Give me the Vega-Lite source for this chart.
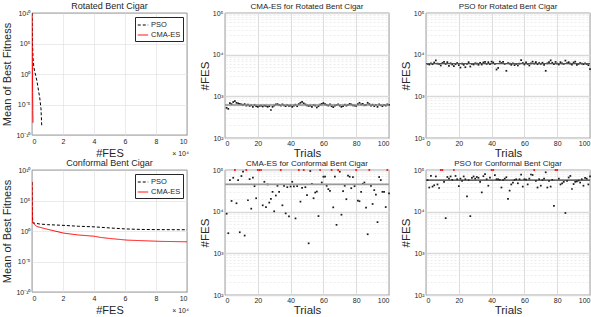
{
"$schema": "https://vega.github.io/schema/vega-lite/v6.json",
"padding": {"left": 1, "top": 1, "right": 0, "bottom": 0},
"background": "white",
"datasets": {
"conv": [
{"p":"rot","alg":"PSO","fes_1e4":0,"fit":1e10},{"p":"rot","alg":"PSO","fes_1e4":0.03,"fit":1e5},{"p":"rot","alg":"PSO","fes_1e4":0.07,"fit":300},{"p":"rot","alg":"PSO","fes_1e4":0.12,"fit":12},{"p":"rot","alg":"PSO","fes_1e4":0.2,"fit":1.5},{"p":"rot","alg":"PSO","fes_1e4":0.32,"fit":0.07},{"p":"rot","alg":"PSO","fes_1e4":0.42,"fit":0.002},{"p":"rot","alg":"PSO","fes_1e4":0.5,"fit":1.2e-4},{"p":"rot","alg":"PSO","fes_1e4":0.58,"fit":2e-6},{"p":"rot","alg":"PSO","fes_1e4":0.63,"fit":2.5e-9},
{"p":"rot","alg":"CMA-ES","fes_1e4":0,"fit":1e10},{"p":"rot","alg":"CMA-ES","fes_1e4":0.01,"fit":1e6},{"p":"rot","alg":"CMA-ES","fes_1e4":0.02,"fit":1e3},{"p":"rot","alg":"CMA-ES","fes_1e4":0.03,"fit":1},{"p":"rot","alg":"CMA-ES","fes_1e4":0.04,"fit":1e-3},{"p":"rot","alg":"CMA-ES","fes_1e4":0.05,"fit":1e-6},{"p":"rot","alg":"CMA-ES","fes_1e4":0.062,"fit":1e-8},
{"p":"conf","alg":"PSO","fes_1e4":0,"fit":1e8},{"p":"conf","alg":"PSO","fes_1e4":0.015,"fit":1e4},{"p":"conf","alg":"PSO","fes_1e4":0.043,"fit":22},{"p":"conf","alg":"PSO","fes_1e4":0.5,"fit":14},{"p":"conf","alg":"PSO","fes_1e4":1,"fit":11},{"p":"conf","alg":"PSO","fes_1e4":2,"fit":8.5},{"p":"conf","alg":"PSO","fes_1e4":3,"fit":6},{"p":"conf","alg":"PSO","fes_1e4":4,"fit":4.8},{"p":"conf","alg":"PSO","fes_1e4":5,"fit":3.2},{"p":"conf","alg":"PSO","fes_1e4":6,"fit":2.2},{"p":"conf","alg":"PSO","fes_1e4":7,"fit":1.8},{"p":"conf","alg":"PSO","fes_1e4":8,"fit":1.7},{"p":"conf","alg":"PSO","fes_1e4":9,"fit":1.65},{"p":"conf","alg":"PSO","fes_1e4":10,"fit":1.6},
{"p":"conf","alg":"CMA-ES","fes_1e4":0,"fit":1e8},{"p":"conf","alg":"CMA-ES","fes_1e4":0.015,"fit":1e4},{"p":"conf","alg":"CMA-ES","fes_1e4":0.043,"fit":22},{"p":"conf","alg":"CMA-ES","fes_1e4":0.32,"fit":5.4},{"p":"conf","alg":"CMA-ES","fes_1e4":0.97,"fit":2},{"p":"conf","alg":"CMA-ES","fes_1e4":2.04,"fit":0.45},{"p":"conf","alg":"CMA-ES","fes_1e4":3,"fit":0.22},{"p":"conf","alg":"CMA-ES","fes_1e4":4,"fit":0.14},{"p":"conf","alg":"CMA-ES","fes_1e4":4.4,"fit":0.09},{"p":"conf","alg":"CMA-ES","fes_1e4":5,"fit":0.06},{"p":"conf","alg":"CMA-ES","fes_1e4":6.13,"fit":0.032},{"p":"conf","alg":"CMA-ES","fes_1e4":8.28,"fit":0.02},{"p":"conf","alg":"CMA-ES","fes_1e4":10,"fit":0.017}
],
"means": [{"p":"cma_rot","fes":620},{"p":"pso_rot","fes":6100},{"p":"cma_conf","fes":45000},{"p":"pso_conf","fes":57000}],
"cma_rot": [
{"t":1,"fes":530},{"t":2,"fes":500},{"t":3,"fes":690},{"t":4,"fes":650},{"t":5,"fes":730},{"t":6,"fes":770},{"t":7,"fes":700},{"t":8,"fes":680},{"t":9,"fes":660},{"t":10,"fes":640},
{"t":11,"fes":620},{"t":12,"fes":650},{"t":13,"fes":600},{"t":14,"fes":630},{"t":15,"fes":590},{"t":16,"fes":610},{"t":17,"fes":560},{"t":18,"fes":620},{"t":19,"fes":580},{"t":20,"fes":560},
{"t":21,"fes":590},{"t":22,"fes":600},{"t":23,"fes":570},{"t":24,"fes":600},{"t":25,"fes":590},{"t":26,"fes":560},{"t":27,"fes":580},{"t":28,"fes":470},{"t":29,"fes":560},{"t":30,"fes":600},
{"t":31,"fes":640},{"t":32,"fes":650},{"t":33,"fes":620},{"t":34,"fes":600},{"t":35,"fes":640},{"t":36,"fes":610},{"t":37,"fes":580},{"t":38,"fes":620},{"t":39,"fes":590},{"t":40,"fes":600},
{"t":41,"fes":560},{"t":42,"fes":600},{"t":43,"fes":630},{"t":44,"fes":580},{"t":45,"fes":650},{"t":46,"fes":700},{"t":47,"fes":740},{"t":48,"fes":680},{"t":49,"fes":640},{"t":50,"fes":610},
{"t":51,"fes":590},{"t":52,"fes":600},{"t":53,"fes":560},{"t":54,"fes":620},{"t":55,"fes":600},{"t":56,"fes":540},{"t":57,"fes":580},{"t":58,"fes":630},{"t":59,"fes":660},{"t":60,"fes":690},
{"t":61,"fes":650},{"t":62,"fes":620},{"t":63,"fes":600},{"t":64,"fes":640},{"t":65,"fes":580},{"t":66,"fes":550},{"t":67,"fes":600},{"t":68,"fes":620},{"t":69,"fes":640},{"t":70,"fes":600},
{"t":71,"fes":560},{"t":72,"fes":580},{"t":73,"fes":630},{"t":74,"fes":600},{"t":75,"fes":620},{"t":76,"fes":660},{"t":77,"fes":640},{"t":78,"fes":610},{"t":79,"fes":600},{"t":80,"fes":590},
{"t":81,"fes":650},{"t":82,"fes":700},{"t":83,"fes":640},{"t":84,"fes":660},{"t":85,"fes":610},{"t":86,"fes":620},{"t":87,"fes":700},{"t":88,"fes":650},{"t":89,"fes":600},{"t":90,"fes":630},
{"t":91,"fes":580},{"t":92,"fes":620},{"t":93,"fes":560},{"t":94,"fes":640},{"t":95,"fes":610},{"t":96,"fes":580},{"t":97,"fes":620},{"t":98,"fes":600},{"t":99,"fes":640},{"t":100,"fes":620}
],
"pso_rot": [
{"t":1,"fes":6000},{"t":2,"fes":5800},{"t":3,"fes":6200},{"t":4,"fes":5900},{"t":5,"fes":6500},{"t":6,"fes":7300},{"t":7,"fes":6100},{"t":8,"fes":6000},{"t":9,"fes":5500},{"t":10,"fes":6300},
{"t":11,"fes":6700},{"t":12,"fes":6000},{"t":13,"fes":6600},{"t":14,"fes":5400},{"t":15,"fes":6200},{"t":16,"fes":5800},{"t":17,"fes":5300},{"t":18,"fes":5900},{"t":19,"fes":6300},{"t":20,"fes":5600},
{"t":21,"fes":4900},{"t":22,"fes":6100},{"t":23,"fes":5700},{"t":24,"fes":5000},{"t":25,"fes":6000},{"t":26,"fes":6600},{"t":27,"fes":5200},{"t":28,"fes":6000},{"t":29,"fes":5800},{"t":30,"fes":6200},
{"t":31,"fes":6100},{"t":32,"fes":5700},{"t":33,"fes":6400},{"t":34,"fes":5800},{"t":35,"fes":6500},{"t":36,"fes":6700},{"t":37,"fes":6000},{"t":38,"fes":6600},{"t":39,"fes":5900},{"t":40,"fes":6800},
{"t":41,"fes":6500},{"t":42,"fes":6000},{"t":43,"fes":4400},{"t":44,"fes":4800},{"t":45,"fes":6800},{"t":46,"fes":6300},{"t":47,"fes":6700},{"t":48,"fes":6000},{"t":49,"fes":4100},{"t":50,"fes":6300},
{"t":51,"fes":6100},{"t":52,"fes":5700},{"t":53,"fes":6200},{"t":54,"fes":5600},{"t":55,"fes":6000},{"t":56,"fes":5500},{"t":57,"fes":6100},{"t":58,"fes":7400},{"t":59,"fes":6300},{"t":60,"fes":5800},
{"t":61,"fes":6500},{"t":62,"fes":6000},{"t":63,"fes":5500},{"t":64,"fes":6200},{"t":65,"fes":6800},{"t":66,"fes":6100},{"t":67,"fes":6600},{"t":68,"fes":5900},{"t":69,"fes":6300},{"t":70,"fes":6000},
{"t":71,"fes":6400},{"t":72,"fes":5700},{"t":73,"fes":4100},{"t":74,"fes":6200},{"t":75,"fes":6600},{"t":76,"fes":7300},{"t":77,"fes":6400},{"t":78,"fes":5900},{"t":79,"fes":6700},{"t":80,"fes":6100},
{"t":81,"fes":5800},{"t":82,"fes":6600},{"t":83,"fes":6200},{"t":84,"fes":6000},{"t":85,"fes":7200},{"t":86,"fes":6300},{"t":87,"fes":6600},{"t":88,"fes":6100},{"t":89,"fes":5800},{"t":90,"fes":6500},
{"t":91,"fes":6800},{"t":92,"fes":5700},{"t":93,"fes":6000},{"t":94,"fes":6300},{"t":95,"fes":6100},{"t":96,"fes":5900},{"t":97,"fes":6200},{"t":98,"fes":6000},{"t":99,"fes":5600},{"t":100,"fes":4500}
],
"cma_conf": [
{"t":1,"fes":8930},{"t":2,"fes":3040},{"t":3,"fes":57300},{"t":4,"fes":18100},{"t":5,"fes":65200},{"t":6,"fes":100000},{"t":7,"fes":15900},{"t":8,"fes":57300},{"t":9,"fes":3210},{"t":10,"fes":71600},
{"t":11,"fes":91200},{"t":12,"fes":2670},{"t":13,"fes":100000},{"t":14,"fes":18800},{"t":15,"fes":60500},{"t":16,"fes":11800},{"t":17,"fes":65200},{"t":18,"fes":41000},{"t":19,"fes":21000},{"t":20,"fes":100000},
{"t":21,"fes":100000},{"t":22,"fes":100000},{"t":23,"fes":14200},{"t":24,"fes":52100},{"t":25,"fes":12900},{"t":26,"fes":45000},{"t":27,"fes":16500},{"t":28,"fes":20200},{"t":29,"fes":29900},{"t":30,"fes":10200},
{"t":31,"fes":24400},{"t":32,"fes":41800},{"t":33,"fes":29900},{"t":34,"fes":100000},{"t":35,"fes":14200},{"t":36,"fes":41800},{"t":37,"fes":9100},{"t":38,"fes":38700},{"t":39,"fes":7700},{"t":40,"fes":40200},
{"t":41,"fes":52100},{"t":42,"fes":40200},{"t":43,"fes":6890},{"t":44,"fes":41000},{"t":45,"fes":100000},{"t":46,"fes":17400},{"t":47,"fes":37300},{"t":48,"fes":100000},{"t":49,"fes":38700},{"t":50,"fes":24800},
{"t":51,"fes":1740},{"t":52,"fes":94600},{"t":53,"fes":46700},{"t":54,"fes":21000},{"t":55,"fes":28800},{"t":56,"fes":30400},{"t":57,"fes":7830},{"t":58,"fes":100000},{"t":59,"fes":50200},{"t":60,"fes":69000},
{"t":61,"fes":69000},{"t":62,"fes":41800},{"t":63,"fes":34700},{"t":64,"fes":31600},{"t":65,"fes":100000},{"t":66,"fes":12700},{"t":67,"fes":69000},{"t":68,"fes":4830},{"t":69,"fes":100000},{"t":70,"fes":91200},
{"t":71,"fes":8450},{"t":72,"fes":31000},{"t":73,"fes":41800},{"t":74,"fes":19900},{"t":75,"fes":72900},{"t":76,"fes":69000},{"t":77,"fes":36600},{"t":78,"fes":67700},{"t":79,"fes":41000},{"t":80,"fes":100000},
{"t":81,"fes":18400},{"t":82,"fes":17800},{"t":83,"fes":29900},{"t":84,"fes":46700},{"t":85,"fes":50200},{"t":86,"fes":12500},{"t":87,"fes":2870},{"t":88,"fes":100000},{"t":89,"fes":41800},{"t":90,"fes":15300},
{"t":91,"fes":32800},{"t":92,"fes":25800},{"t":93,"fes":5610},{"t":94,"fes":67700},{"t":95,"fes":57300},{"t":96,"fes":29900},{"t":97,"fes":29900},{"t":98,"fes":12900},{"t":99,"fes":100000},{"t":100,"fes":27500}
],
"pso_conf": [
{"t":1,"fes":57000},{"t":2,"fes":38000},{"t":3,"fes":72000},{"t":4,"fes":40000},{"t":5,"fes":43000},{"t":6,"fes":70000},{"t":7,"fes":45000},{"t":8,"fes":37000},{"t":9,"fes":100000},{"t":10,"fes":100000},
{"t":11,"fes":52000},{"t":12,"fes":7000},{"t":13,"fes":68000},{"t":14,"fes":62000},{"t":15,"fes":70000},{"t":16,"fes":58000},{"t":17,"fes":100000},{"t":18,"fes":72000},{"t":19,"fes":60000},{"t":20,"fes":41000},
{"t":21,"fes":62000},{"t":22,"fes":55000},{"t":23,"fes":70000},{"t":24,"fes":60000},{"t":25,"fes":23400},{"t":26,"fes":57000},{"t":27,"fes":7800},{"t":28,"fes":65000},{"t":29,"fes":70000},{"t":30,"fes":62000},
{"t":31,"fes":68000},{"t":32,"fes":65000},{"t":33,"fes":52000},{"t":34,"fes":29000},{"t":35,"fes":71000},{"t":36,"fes":80000},{"t":37,"fes":60000},{"t":38,"fes":42000},{"t":39,"fes":66000},{"t":40,"fes":100000},
{"t":41,"fes":100000},{"t":42,"fes":75000},{"t":43,"fes":60000},{"t":44,"fes":60000},{"t":45,"fes":58000},{"t":46,"fes":38000},{"t":47,"fes":57000},{"t":48,"fes":62000},{"t":49,"fes":67000},{"t":50,"fes":20200},
{"t":51,"fes":32000},{"t":52,"fes":45000},{"t":53,"fes":50000},{"t":54,"fes":58000},{"t":55,"fes":60000},{"t":56,"fes":48000},{"t":57,"fes":60000},{"t":58,"fes":77000},{"t":59,"fes":40000},{"t":60,"fes":60000},
{"t":61,"fes":59000},{"t":62,"fes":45000},{"t":63,"fes":62000},{"t":64,"fes":78000},{"t":65,"fes":76000},{"t":66,"fes":100000},{"t":67,"fes":55000},{"t":68,"fes":38000},{"t":69,"fes":60000},{"t":70,"fes":42000},
{"t":71,"fes":57000},{"t":72,"fes":62000},{"t":73,"fes":88000},{"t":74,"fes":38000},{"t":75,"fes":55000},{"t":76,"fes":40000},{"t":77,"fes":58000},{"t":78,"fes":13700},{"t":79,"fes":100000},{"t":80,"fes":100000},
{"t":81,"fes":62000},{"t":82,"fes":45000},{"t":83,"fes":48000},{"t":84,"fes":52000},{"t":85,"fes":9300},{"t":86,"fes":55000},{"t":87,"fes":66000},{"t":88,"fes":72000},{"t":89,"fes":35000},{"t":90,"fes":46000},
{"t":91,"fes":52000},{"t":92,"fes":53000},{"t":93,"fes":56000},{"t":94,"fes":50000},{"t":95,"fes":60000},{"t":96,"fes":42000},{"t":97,"fes":65000},{"t":98,"fes":62000},{"t":99,"fes":45000},{"t":100,"fes":70000}
]
},
"columns": 3,
"align": "each",
"spacing": {"row": -1, "column": 8},
"concat": [
{
 "width": 155, "height": 122,
 "title": {"text": "Rotated Bent Cigar", "fontSize": 9},
 "layer": [
  {
   "data": {"name": "conv"},
   "transform": [{"filter": "datum.p==='rot'"}],
   "mark": {"type": "line", "clip": true, "strokeWidth": 1},
   "encoding": {
    "x": {"field": "fes_1e4", "type": "quantitative", "scale": {"domain": [0, 10]}, "axis": {"values": [0,2,4,6,8,10], "format": "d", "labelOverlap": false, "labelPadding": 2, "title": "#FES", "titleFontSize": 11, "titlePadding": 3, "grid": true}},
    "y": {"field": "fit", "type": "quantitative", "scale": {"type": "log", "domain": [1e-10, 1e10]}, "axis": {"values": [1e-10,1e-5,1,1e5,1e10], "labelExpr": "datum.value>1e9?'10¹⁰':datum.value>1e4?'10⁵':datum.value>0.1?'10⁰':datum.value>1e-6?'10⁻⁵':'10⁻¹⁰'", "labelOverlap": false, "title": "Mean of Best Fitness", "titleFontSize": 11, "titlePadding": 3, "grid": true}},
    "color": {"field": "alg", "type": "nominal", "scale": {"domain": ["PSO", "CMA-ES"], "range": ["#000000", "#ff0000"]}, "legend": {"title": null}},
    "strokeDash": {"field": "alg", "type": "nominal", "scale": {"domain": ["PSO", "CMA-ES"], "range": [[3, 2], [1, 0]]}, "legend": {"title": null}}
   }
  },
  {
   "data": {"values": [{"note": "× 10⁴"}]},
   "mark": {"type": "text", "align": "right", "baseline": "middle", "dy": 19, "dx": 2, "fontSize": 7, "color": "#262626"},
   "encoding": {
    "x": {"datum": 10, "type": "quantitative", "scale": {"domain": [0, 10]}, "axis": {"values": [0,2,4,6,8,10], "format": "d", "labelOverlap": false, "labelPadding": 2, "title": "#FES", "titleFontSize": 11, "titlePadding": 3, "grid": true}},
    "y": {"datum": 1e-10, "type": "quantitative", "scale": {"type": "log", "domain": [1e-10, 1e10]}, "axis": {"values": [1e-10,1e-5,1,1e5,1e10], "labelExpr": "datum.value>1e9?'10¹⁰':datum.value>1e4?'10⁵':datum.value>0.1?'10⁰':datum.value>1e-6?'10⁻⁵':'10⁻¹⁰'", "labelOverlap": false, "title": "Mean of Best Fitness", "titleFontSize": 11, "titlePadding": 3, "grid": true}},
    "text": {"field": "note"}
   }
  }
 ]
},
{
 "width": 164, "height": 125,
 "title": {"text": "CMA-ES for Rotated Bent Cigar", "fontSize": 8},
 "layer": [
  {
   "data": {"name": "cma_rot"},
   "mark": {"type": "point", "shape": "square", "filled": true, "size": 3, "opacity": 1},
   "encoding": {
    "x": {"field": "t", "type": "quantitative", "scale": {"domain": [0, 100]}, "axis": {"values": [0,20,40,60,80,100], "labelOverlap": false, "labelPadding": 1, "title": "Trials", "titleFontSize": 11.5, "titlePadding": 1, "grid": true, "gridColor": "#d4d4d4", "gridWidth": 0.8}},
    "y": {"field": "fes", "type": "quantitative", "scale": {"type": "log", "domain": [100, 100000]}, "axis": {"values": [100,200,300,400,500,600,700,800,900,1000,2000,3000,4000,5000,6000,7000,8000,9000,10000,20000,30000,40000,50000,60000,70000,80000,90000,100000], "labelExpr": "datum.value===100?'10²':datum.value===1000?'10³':datum.value===10000?'10⁴':datum.value===100000?'10⁵':''", "labelOverlap": false, "title": "#FES", "titleFontSize": 11.5, "titlePadding": 2, "grid": true, "gridDash": {"condition": {"test": "indexof([100,1000,10000,100000],datum.value)<0", "value": [2, 2]}, "value": []}, "gridColor": {"condition": {"test": "indexof([100,1000,10000,100000],datum.value)<0", "value": "#e3e3e3"}, "value": "#d9d9d9"}, "gridWidth": {"condition": {"test": "indexof([100,1000,10000,100000],datum.value)<0", "value": 0.6}, "value": 1.5}}},
    "color": {"condition": {"test": "datum.fes>=100000", "value": "#ff0000"}, "value": "#1a1a1a"}
   }
  },
  {
   "data": {"name": "means"},
   "transform": [{"filter": "datum.p==='cma_rot'"}],
   "mark": {"type": "rule", "color": "#8c8c8c", "strokeWidth": 1.5},
   "encoding": {"y": {"field": "fes", "type": "quantitative"}}
  }
 ]
},
{
 "width": 164, "height": 125,
 "title": {"text": "PSO for Rotated Bent Cigar", "fontSize": 8},
 "layer": [
  {
   "data": {"name": "pso_rot"},
   "mark": {"type": "point", "shape": "square", "filled": true, "size": 3, "opacity": 1},
   "encoding": {
    "x": {"field": "t", "type": "quantitative", "scale": {"domain": [0, 100]}, "axis": {"values": [0,20,40,60,80,100], "labelOverlap": false, "labelPadding": 1, "title": "Trials", "titleFontSize": 11.5, "titlePadding": 1, "grid": true, "gridColor": "#d4d4d4", "gridWidth": 0.8}},
    "y": {"field": "fes", "type": "quantitative", "scale": {"type": "log", "domain": [100, 100000]}, "axis": {"values": [100,200,300,400,500,600,700,800,900,1000,2000,3000,4000,5000,6000,7000,8000,9000,10000,20000,30000,40000,50000,60000,70000,80000,90000,100000], "labelExpr": "datum.value===100?'10²':datum.value===1000?'10³':datum.value===10000?'10⁴':datum.value===100000?'10⁵':''", "labelOverlap": false, "title": "#FES", "titleFontSize": 11.5, "titlePadding": 2, "grid": true, "gridDash": {"condition": {"test": "indexof([100,1000,10000,100000],datum.value)<0", "value": [2, 2]}, "value": []}, "gridColor": {"condition": {"test": "indexof([100,1000,10000,100000],datum.value)<0", "value": "#e3e3e3"}, "value": "#d9d9d9"}, "gridWidth": {"condition": {"test": "indexof([100,1000,10000,100000],datum.value)<0", "value": 0.6}, "value": 1.5}}},
    "color": {"condition": {"test": "datum.fes>=100000", "value": "#ff0000"}, "value": "#1a1a1a"}
   }
  },
  {
   "data": {"name": "means"},
   "transform": [{"filter": "datum.p==='pso_rot'"}],
   "mark": {"type": "rule", "color": "#555555", "strokeWidth": 1.2},
   "encoding": {"y": {"field": "fes", "type": "quantitative"}}
  }
 ]
},
{
 "width": 155, "height": 122,
 "title": {"text": "Conformal Bent Cigar", "fontSize": 9},
 "layer": [
  {
   "data": {"name": "conv"},
   "transform": [{"filter": "datum.p==='conf'"}],
   "mark": {"type": "line", "clip": true, "strokeWidth": 1},
   "encoding": {
    "x": {"field": "fes_1e4", "type": "quantitative", "scale": {"domain": [0, 10]}, "axis": {"values": [0,2,4,6,8,10], "format": "d", "labelOverlap": false, "labelPadding": 2, "title": "#FES", "titleFontSize": 11, "titlePadding": 3, "grid": true}},
    "y": {"field": "fit", "type": "quantitative", "scale": {"type": "log", "domain": [1e-10, 1e10]}, "axis": {"values": [1e-10,1e-5,1,1e5,1e10], "labelExpr": "datum.value>1e9?'10¹⁰':datum.value>1e4?'10⁵':datum.value>0.1?'10⁰':datum.value>1e-6?'10⁻⁵':'10⁻¹⁰'", "labelOverlap": false, "title": "Mean of Best Fitness", "titleFontSize": 11, "titlePadding": 3, "grid": true}},
    "color": {"field": "alg", "type": "nominal", "scale": {"domain": ["PSO", "CMA-ES"], "range": ["#000000", "#ff0000"]}, "legend": {"title": null}},
    "strokeDash": {"field": "alg", "type": "nominal", "scale": {"domain": ["PSO", "CMA-ES"], "range": [[3, 2], [1, 0]]}, "legend": {"title": null}}
   }
  },
  {
   "data": {"values": [{"note": "× 10⁴"}]},
   "mark": {"type": "text", "align": "right", "baseline": "middle", "dy": 19, "dx": 2, "fontSize": 7, "color": "#262626"},
   "encoding": {
    "x": {"datum": 10, "type": "quantitative", "scale": {"domain": [0, 10]}, "axis": {"values": [0,2,4,6,8,10], "format": "d", "labelOverlap": false, "labelPadding": 2, "title": "#FES", "titleFontSize": 11, "titlePadding": 3, "grid": true}},
    "y": {"datum": 1e-10, "type": "quantitative", "scale": {"type": "log", "domain": [1e-10, 1e10]}, "axis": {"values": [1e-10,1e-5,1,1e5,1e10], "labelExpr": "datum.value>1e9?'10¹⁰':datum.value>1e4?'10⁵':datum.value>0.1?'10⁰':datum.value>1e-6?'10⁻⁵':'10⁻¹⁰'", "labelOverlap": false, "title": "Mean of Best Fitness", "titleFontSize": 11, "titlePadding": 3, "grid": true}},
    "text": {"field": "note"}
   }
  }
 ]
},
{
 "width": 164, "height": 125,
 "title": {"text": "CMA-ES for Conformal Bent Cigar", "fontSize": 8},
 "layer": [
  {
   "data": {"name": "cma_conf"},
   "mark": {"type": "point", "shape": "square", "filled": true, "size": 3, "opacity": 1},
   "encoding": {
    "x": {"field": "t", "type": "quantitative", "scale": {"domain": [0, 100]}, "axis": {"values": [0,20,40,60,80,100], "labelOverlap": false, "labelPadding": 1, "title": "Trials", "titleFontSize": 11.5, "titlePadding": 1, "grid": true, "gridColor": "#d4d4d4", "gridWidth": 0.8}},
    "y": {"field": "fes", "type": "quantitative", "scale": {"type": "log", "domain": [100, 100000]}, "axis": {"values": [100,200,300,400,500,600,700,800,900,1000,2000,3000,4000,5000,6000,7000,8000,9000,10000,20000,30000,40000,50000,60000,70000,80000,90000,100000], "labelExpr": "datum.value===100?'10²':datum.value===1000?'10³':datum.value===10000?'10⁴':datum.value===100000?'10⁵':''", "labelOverlap": false, "title": "#FES", "titleFontSize": 11.5, "titlePadding": 2, "grid": true, "gridDash": {"condition": {"test": "indexof([100,1000,10000,100000],datum.value)<0", "value": [2, 2]}, "value": []}, "gridColor": {"condition": {"test": "indexof([100,1000,10000,100000],datum.value)<0", "value": "#e3e3e3"}, "value": "#d9d9d9"}, "gridWidth": {"condition": {"test": "indexof([100,1000,10000,100000],datum.value)<0", "value": 0.6}, "value": 1.5}}},
    "color": {"condition": {"test": "datum.fes>=100000", "value": "#ff0000"}, "value": "#1a1a1a"}
   }
  },
  {
   "data": {"name": "means"},
   "transform": [{"filter": "datum.p==='cma_conf'"}],
   "mark": {"type": "rule", "color": "#9a9a9a", "strokeWidth": 1.8},
   "encoding": {"y": {"field": "fes", "type": "quantitative"}}
  }
 ]
},
{
 "width": 164, "height": 125,
 "title": {"text": "PSO for Conformal Bent Cigar", "fontSize": 8},
 "layer": [
  {
   "data": {"name": "pso_conf"},
   "mark": {"type": "point", "shape": "square", "filled": true, "size": 3, "opacity": 1},
   "encoding": {
    "x": {"field": "t", "type": "quantitative", "scale": {"domain": [0, 100]}, "axis": {"values": [0,20,40,60,80,100], "labelOverlap": false, "labelPadding": 1, "title": "Trials", "titleFontSize": 11.5, "titlePadding": 1, "grid": true, "gridColor": "#d4d4d4", "gridWidth": 0.8}},
    "y": {"field": "fes", "type": "quantitative", "scale": {"type": "log", "domain": [100, 100000]}, "axis": {"values": [100,200,300,400,500,600,700,800,900,1000,2000,3000,4000,5000,6000,7000,8000,9000,10000,20000,30000,40000,50000,60000,70000,80000,90000,100000], "labelExpr": "datum.value===100?'10²':datum.value===1000?'10³':datum.value===10000?'10⁴':datum.value===100000?'10⁵':''", "labelOverlap": false, "title": "#FES", "titleFontSize": 11.5, "titlePadding": 2, "grid": true, "gridDash": {"condition": {"test": "indexof([100,1000,10000,100000],datum.value)<0", "value": [2, 2]}, "value": []}, "gridColor": {"condition": {"test": "indexof([100,1000,10000,100000],datum.value)<0", "value": "#e3e3e3"}, "value": "#d9d9d9"}, "gridWidth": {"condition": {"test": "indexof([100,1000,10000,100000],datum.value)<0", "value": 0.6}, "value": 1.5}}},
    "color": {"condition": {"test": "datum.fes>=100000", "value": "#ff0000"}, "value": "#1a1a1a"}
   }
  },
  {
   "data": {"name": "means"},
   "transform": [{"filter": "datum.p==='pso_conf'"}],
   "mark": {"type": "rule", "color": "#333333", "strokeWidth": 1.2},
   "encoding": {"y": {"field": "fes", "type": "quantitative"}}
  }
 ]
}
],
"resolve": {"scale": {"color": "independent", "strokeDash": "independent"}},
"config": {
 "font": "Liberation Sans",
 "view": {"stroke": "#262626", "strokeWidth": 0.7},
 "axis": {"domain": false, "ticks": false, "labelFontSize": 7, "labelColor": "#262626", "titleColor": "#262626", "titleFontWeight": "normal", "labelPadding": 2, "labelOverlap": false, "labelBound": false, "gridColor": "#dedede", "gridWidth": 0.6},
 "title": {"fontWeight": "normal", "color": "#262626", "offset": -2},
 "legend": {"orient": "top-right", "offset": 4, "padding": 2, "strokeColor": "#262626", "fillColor": "#ffffff", "labelFontSize": 7.5, "labelColor": "#262626", "symbolType": "stroke", "symbolSize": 110, "symbolStrokeWidth": 1, "rowPadding": 0, "labelOffset": 2, "cornerRadius": 0}
}
}
